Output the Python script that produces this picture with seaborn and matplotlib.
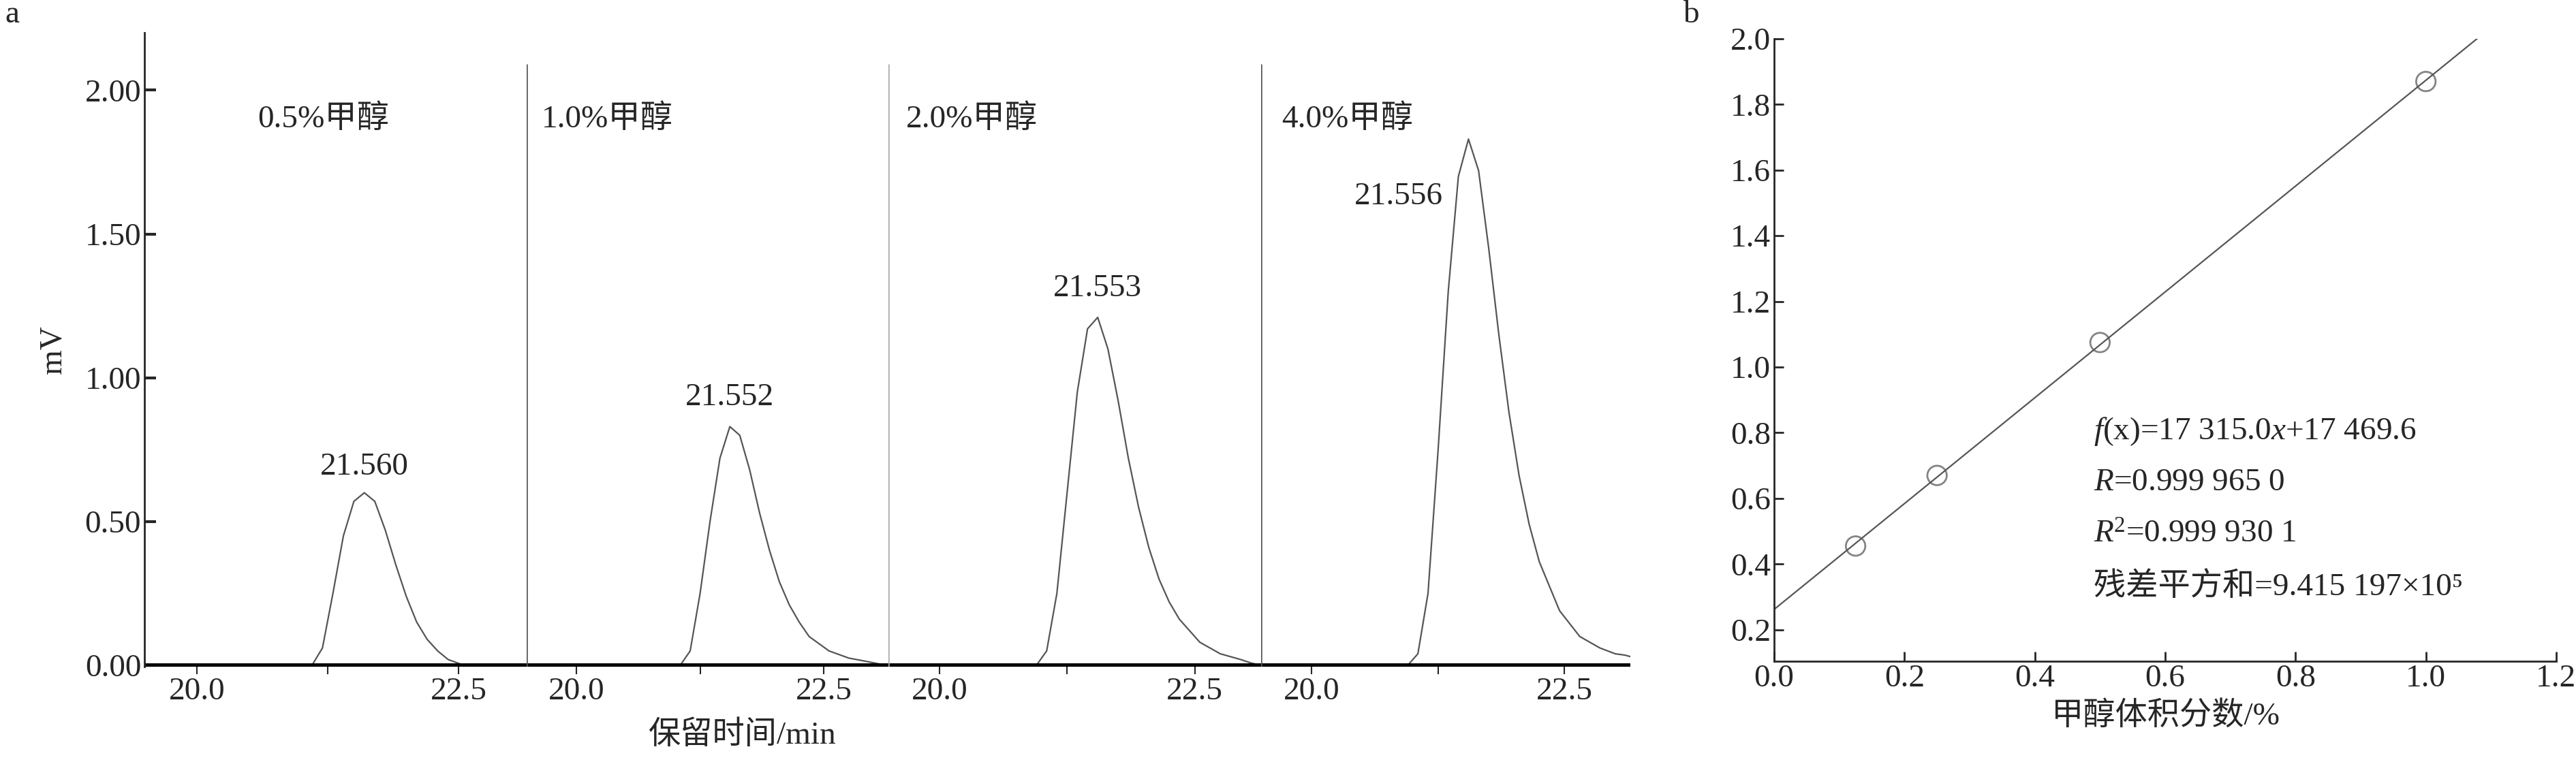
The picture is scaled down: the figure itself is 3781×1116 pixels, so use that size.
import numpy as np
import pandas as pd
import seaborn as sns
import matplotlib.pyplot as plt

sns.set_style("white")
plt.rcParams['font.family'] = ['Liberation Serif', 'Noto Sans CJK SC']
plt.rcParams['mathtext.fontset'] = 'custom'
plt.rcParams['mathtext.rm'] = 'Liberation Serif'
plt.rcParams['mathtext.it'] = 'Liberation Serif:italic'

# chromatogram data
panel_names = ['0.5%甲醇', '1.0%甲醇', '2.0%甲醇', '4.0%甲醇']
peak_rt = ['21.560', '21.552', '21.553', '21.556']
peak_h = [0.60, 0.84, 1.22, 1.83]
t1 = [19.5, 21.1, 21.2, 21.3, 21.4, 21.5, 21.6, 21.7, 21.8, 21.9, 22.0, 22.1, 22.2, 22.3, 22.4, 22.55, 22.6]
s1 = [0, 0, 0.06, 0.25, 0.45, 0.57, 0.60, 0.57, 0.47, 0.35, 0.24, 0.15, 0.09, 0.05, 0.02, 0, 0]
t2 = [19.5, 21.05, 21.15, 21.25, 21.35, 21.45, 21.55, 21.65, 21.75, 21.85, 21.95, 22.05, 22.15, 22.25, 22.35, 22.55, 22.75, 22.95, 23.05, 23.15]
s2 = [0, 0, 0.05, 0.25, 0.50, 0.72, 0.83, 0.80, 0.68, 0.53, 0.40, 0.29, 0.21, 0.15, 0.10, 0.05, 0.025, 0.012, 0.005, 0]
t3 = [19.5, 20.95, 21.05, 21.15, 21.25, 21.35, 21.45, 21.55, 21.65, 21.75, 21.85, 21.95, 22.05, 22.15, 22.25, 22.35, 22.55, 22.75, 22.95, 23.05, 23.15]
s3 = [0, 0, 0.05, 0.25, 0.60, 0.95, 1.17, 1.21, 1.10, 0.92, 0.72, 0.55, 0.41, 0.30, 0.22, 0.16, 0.08, 0.04, 0.02, 0.008, 0]
t4 = [19.5, 20.95, 21.05, 21.15, 21.25, 21.35, 21.45, 21.55, 21.65, 21.75, 21.85, 21.95, 22.05, 22.15, 22.25, 22.45, 22.65, 22.85, 23.0, 23.1, 23.15]
s4 = [0, 0, 0.04, 0.25, 0.75, 1.30, 1.70, 1.83, 1.72, 1.45, 1.15, 0.88, 0.66, 0.49, 0.36, 0.19, 0.10, 0.06, 0.04, 0.035, 0.03]
times = [t1, t2, t3, t4]
signals = [s1, s2, s3, s4]
label_x = [20.58, 19.65, 19.67, 19.7]

# calibration data
conc = [0.125, 0.25, 0.5, 1.0]
area = [0.455, 0.67, 1.075, 1.87]

fig = plt.figure(figsize=(37.81, 11.16), dpi=100)
fs = 34
edges = [212, 773, 1304, 1851, 2393]
bottom, top = 1 - 979 / 1116, 1 - 48 / 1116
for i in range(4):
    ax = fig.add_axes([edges[i] / 3781, bottom, (edges[i + 1] - edges[i]) / 3781, top - bottom])
    df = pd.DataFrame({'t': times[i], 's': signals[i]})
    sns.lineplot(data=df, x='t', y='s', ax=ax, color='#555555', lw=1.6, sort=False)
    ax.axhline(0, color='black', lw=5)
    ax.set_xlim(19.5, 23.15)
    ax.set_ylim(-0.005, 2.2)
    ax.set_xticks([20.0, 22.5])
    ax.set_xticklabels(['20.0', '22.5'])
    ax.set_xticks([21.25], minor=True)
    ax.tick_params(axis='x', which='both', direction='out', length=8, width=1.5, labelsize=fs, bottom=True)
    ax.set_xlabel('')
    ax.set_ylabel('')
    for sp in ['top', 'right', 'bottom']:
        ax.spines[sp].set_visible(False)
    if i == 0:
        ax.spines['left'].set_linewidth(2)
        ax.set_yticks([0, 0.5, 1.0, 1.5, 2.0])
        ax.set_yticklabels(['0.00', '0.50', '1.00', '1.50', '2.00'])
        ax.tick_params(axis='y', direction='in', length=12, width=3, labelsize=fs, left=True)
        ax.set_ylabel('mV', fontsize=fs, labelpad=18)
    else:
        ax.spines['left'].set_visible(False)
        ax.set_yticks([])
        ax.axvline(19.5, ymin=0, ymax=0.95, color='#555555' if i != 2 else '#aaaaaa', lw=1.8)
    ax.text(label_x[i], 1.9, panel_names[i], fontsize=fs, va='center')
    ipk = int(np.argmax(signals[i]))
    if i == 3:
        ax.text(times[i][ipk] - 0.25, 1.63, peak_rt[i], fontsize=fs, ha='right', va='center')
    else:
        ax.text(times[i][ipk], peak_h[i] + 0.04, peak_rt[i], fontsize=fs, ha='center', va='bottom')

fig.text(1090 / 3781, 1 - 1080 / 1116, '保留时间/min', fontsize=fs, ha='center', va='center')
fig.text(0.002, 1 - 22 / 1116, 'a', fontsize=fs, va='center')

# calibration panel
bx = fig.add_axes([2604 / 3781, 1 - 971 / 1116, (3752 - 2604) / 3781, (971 - 57) / 1116])
bx.set_xlim(0, 1.2)
bx.set_ylim(0.104, 2.0)
cal = pd.DataFrame({'c': conc, 'a': area})
sns.regplot(data=cal, x='c', y='a', ax=bx, ci=None, truncate=False,
            scatter_kws=dict(s=420, facecolors='none', edgecolors='#666666', linewidths=2),
            line_kws=dict(color='#555555', lw=1.6))
bx.set_xlim(0, 1.2)
bx.set_ylim(0.104, 2.0)
bx.set_xticks(np.round(np.arange(0, 1.21, 0.2), 1))
bx.set_yticks(np.round(np.arange(0.2, 2.01, 0.2), 1))
bx.xaxis.set_major_formatter(plt.FormatStrFormatter('%.1f'))
bx.yaxis.set_major_formatter(plt.FormatStrFormatter('%.1f'))
bx.tick_params(direction='in', length=10, width=2, labelsize=fs, left=True, bottom=True)
for sp in ['top', 'right']:
    bx.spines[sp].set_visible(False)
for sp in ['left', 'bottom']:
    bx.spines[sp].set_linewidth(2)
bx.set_xlabel('甲醇体积分数/%', fontsize=fs, labelpad=8)
bx.set_ylabel('')
lines = ['$f$(x)=17 315.0$x$+17 469.6', '$R$=0.999 965 0', '$R$$^2$=0.999 930 1', '残差平方和=9.415 197×10⁵']
for k, s in enumerate(lines):
    bx.text(0.49, 0.805 - k * 0.158, s, fontsize=fs, va='center')
fig.text(2470 / 3781, 1 - 22 / 1116, 'b', fontsize=fs, va='center')

fig.savefig('out.png', dpi=100)
